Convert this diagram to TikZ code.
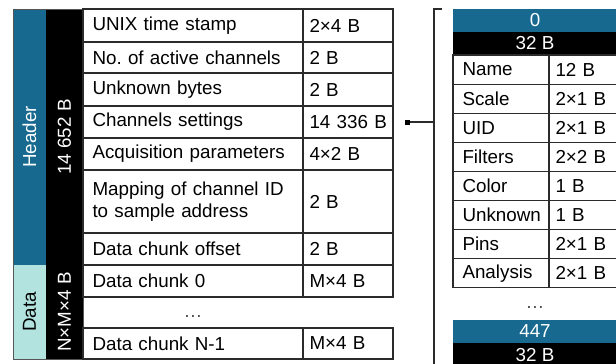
\documentclass[tikz,border=0pt]{standalone}
\usepackage{fontspec}
\setmainfont{Liberation Sans}
\frenchspacing
\definecolor{hdrblue}{HTML}{17698F}
\definecolor{datateal}{HTML}{B2E3DE}
\definecolor{rule}{HTML}{2B2B2B}
\tikzset{
  cellbox/.style={draw=rule, line width=1.1pt, anchor=north west, outer sep=0pt,
    inner ysep=0pt, align=left, font=\fontsize{18.8}{21.8}\selectfont},
  bandbox/.style={anchor=north west, outer sep=0pt, inner sep=0pt,
    font=\fontsize{18.8}{21.8}\selectfont},
  sidebar/.style={anchor=north west, outer sep=0pt, inner sep=0pt},
  vtext/.style={rotate=90, font=\fontsize{18.8}{21.8}\selectfont},
  dotsnode/.style={font=\fontsize{18.8}{21.8}\selectfont, text=black!70},
  linkline/.style={draw=rule, line width=1.1pt},
}
% \fcell{name}{x}{y}{width}{height}{text}: bordered field cell, text on the left
\newcommand{\fcell}[6]{%
  \node[cellbox, inner xsep=9.5pt, minimum width=#4pt, minimum height=#5pt,
    text width=#4pt-19pt] (#1) at (#2,-#3) {#6};}
% \vcell{name}{x}{y}{width}{height}{text}: bordered size cell, one unbroken line
\newcommand{\vcell}[6]{%
  \node[cellbox, inner xsep=6.5pt, minimum width=#4pt, minimum height=#5pt,
    text width=#4pt-13pt] (#1) at (#2,-#3) {\mbox{#6}};}
\begin{document}
\begin{tikzpicture}[x=1pt, y=1pt]
\useasboundingbox (0,0) rectangle (616,-364);
\fill[white] (0,0) rectangle (616,-364);

% ---- file layout: side bands ----
\node[sidebar, fill=hdrblue, minimum width=33pt, minimum height=256pt] (hdr) at (13,-9) {};
\node[sidebar, fill=datateal, minimum width=33pt, minimum height=94pt] (dat) at (13,-265) {};
\node[sidebar, fill=black, minimum width=37pt, minimum height=350pt] (sz) at (46,-9) {};
\draw[draw=rule!80, line width=1pt] (13,-9) rectangle (83,-359);
\node[vtext, text=white] at (hdr.center) {Header};
\node[vtext, text=black] at (dat.center) {Data};
\node[vtext, text=white] at (46+18.5,-137) {14 652 B};
\node[vtext, text=white] at (46+18.5,-312) {N×M×4 B};

% ---- file layout: fields and sizes ----
\fcell{f1}{83}{9}{220}{33}{UNIX time stamp}
\vcell{s1}{303}{9}{90}{33}{2×4 B}
\fcell{f2}{83}{42}{220}{31}{No. of active channels}
\vcell{s2}{303}{42}{90}{31}{2 B}
\fcell{f3}{83}{73}{220}{33}{Unknown bytes}
\vcell{s3}{303}{73}{90}{33}{2 B}
\fcell{f4}{83}{106}{220}{32}{Channels settings}
\vcell{s4}{303}{106}{90}{32}{14 336 B}
\fcell{f5}{83}{138}{220}{32}{Acquisition parameters}
\vcell{s5}{303}{138}{90}{32}{4×2 B}
\fcell{f6}{83}{170}{220}{63}{Mapping of channel ID\\to sample address}
\vcell{s6}{303}{170}{90}{63}{2 B}
\fcell{f7}{83}{233}{220}{32}{Data chunk offset}
\vcell{s7}{303}{233}{90}{32}{2 B}
\fcell{f8}{83}{265}{220}{32}{Data chunk 0}
\vcell{s8}{303}{265}{90}{32}{M×4 B}
\node[dotsnode] (fdots) at (193,-316) {…};
\fcell{f9}{83}{328}{220}{31}{Data chunk N-1}
\vcell{s9}{303}{328}{90}{31}{M×4 B}

% ---- link from channel settings to the per-channel records ----
\node[fill=black, minimum size=5pt, inner sep=0pt, outer sep=0pt] (port) at (407.5,-122) {};
\coordinate (brtop) at (442,-9);
\coordinate (brcorner) at (434,-9);
\coordinate (brbottom) at (434,-370);
\coordinate (brmid) at (434,-122);
\draw[linkline] (brtop) -- (brcorner) -- (brbottom);
\draw[linkline] (port) -- (brmid);

% ---- channel record 0 ----
\node[bandbox, fill=hdrblue, text=white, minimum width=164pt, minimum height=23pt] (c0) at (453,-9) {0};
\node[bandbox, fill=black, text=white, minimum width=164pt, minimum height=23pt] (c0s) at (453,-32) {32 B};
\fcell{n1}{453}{55}{96}{29.1}{Name}
\vcell{v1}{549}{55}{68}{29.1}{12 B}
\fcell{n2}{453}{84.1}{96}{29.1}{Scale}
\vcell{v2}{549}{84.1}{68}{29.1}{2×1 B}
\fcell{n3}{453}{113.2}{96}{29.1}{UID}
\vcell{v3}{549}{113.2}{68}{29.1}{2×1 B}
\fcell{n4}{453}{142.3}{96}{29.1}{Filters}
\vcell{v4}{549}{142.3}{68}{29.1}{2×2 B}
\fcell{n5}{453}{171.4}{96}{29.1}{Color}
\vcell{v5}{549}{171.4}{68}{29.1}{1 B}
\fcell{n6}{453}{200.5}{96}{29.1}{Unknown}
\vcell{v6}{549}{200.5}{68}{29.1}{1 B}
\fcell{n7}{453}{229.6}{96}{29.1}{Pins}
\vcell{v7}{549}{229.6}{68}{29.1}{2×1 B}
\fcell{n8}{453}{258.7}{96}{29.1}{Analysis}
\vcell{v8}{549}{258.7}{68}{29.1}{2×1 B}
\node[dotsnode] (cdots) at (535,-307) {…};

% ---- channel record 447 ----
\node[bandbox, fill=hdrblue, text=white, minimum width=164pt, minimum height=23pt] (c447) at (453,-320) {447};
\node[bandbox, fill=black, text=white, minimum width=164pt, minimum height=24pt] (c447s) at (453,-343) {32 B};
\end{tikzpicture}
\end{document}
